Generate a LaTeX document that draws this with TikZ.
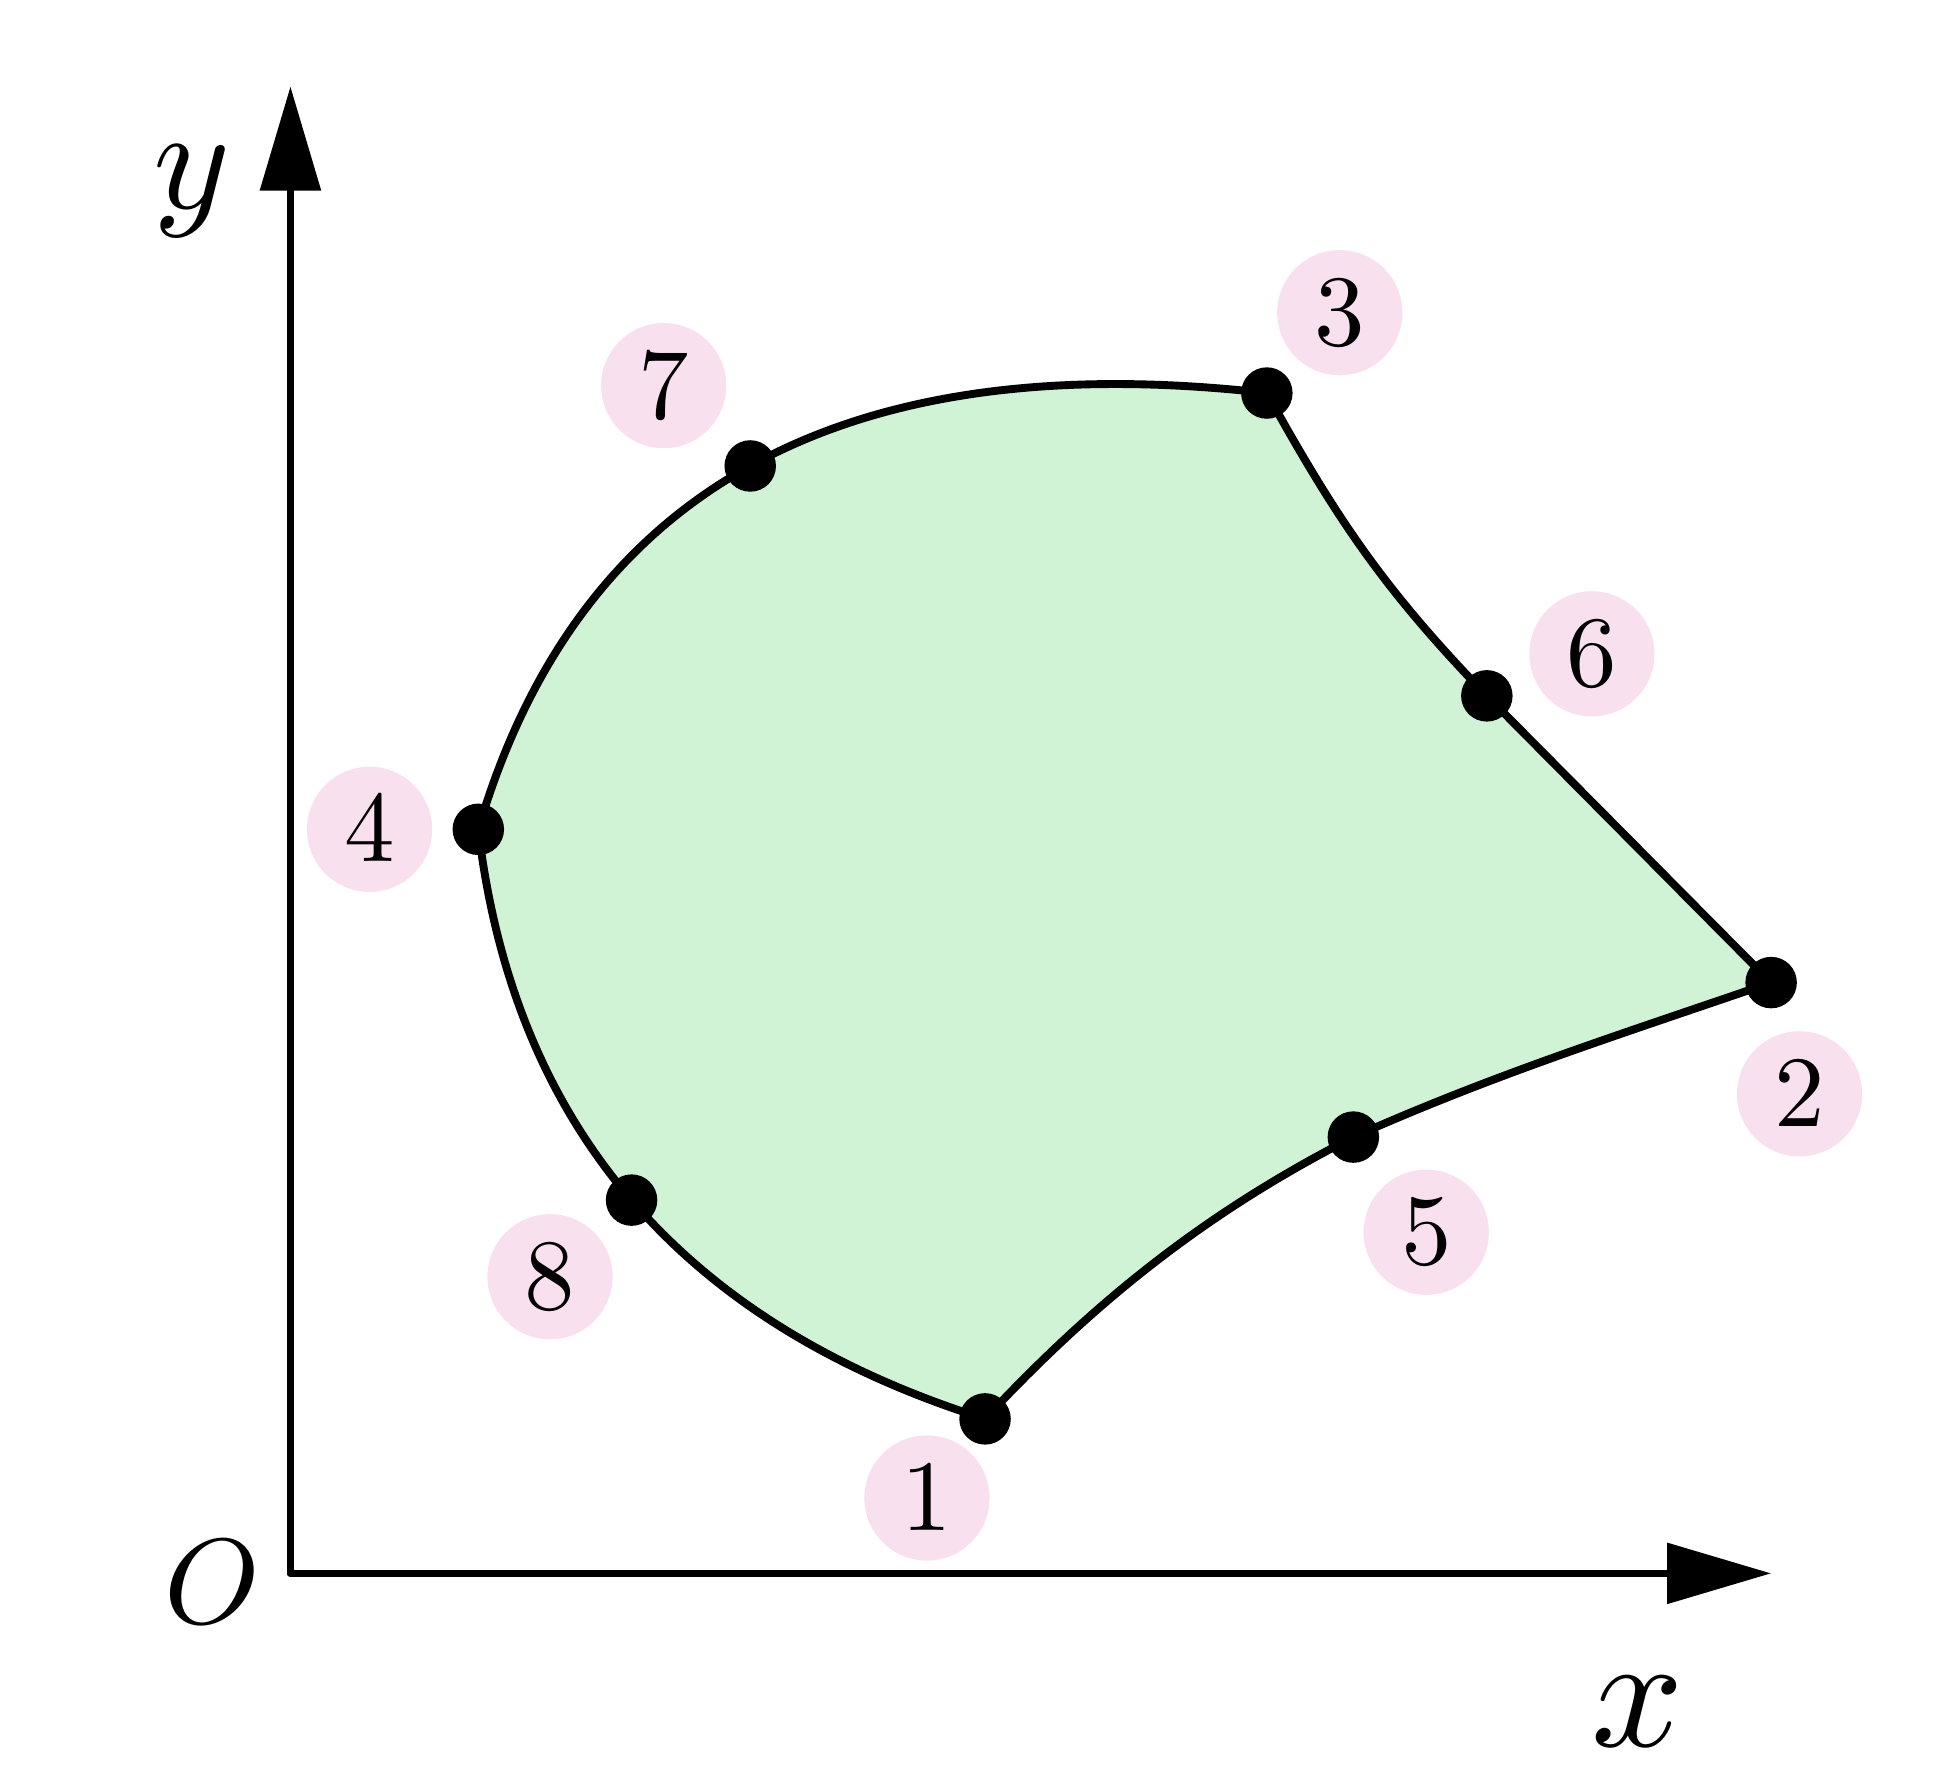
\documentclass[tikz,border=0pt]{standalone}
\usepackage{amsmath}
\usepackage{amssymb}
\usepackage{tikz}
\usetikzlibrary{arrows.meta}
\usetikzlibrary{calc}

\definecolor{elemgreen}{RGB}{208,243,213}
\definecolor{tagpink}{RGB}{249,224,238}

\tikzset{
    axis/.style = {line width = 0.7pt, line cap = round,
        -{Triangle[length = 10.3pt, width = 5.9pt]}},
    edge/.style = {line width = 0.78pt, fill = elemgreen},
    knot/.style = {fill = black, circle, inner sep = 0, minimum size = 5.1pt},
    tag/.style = {fill = tagpink, circle, inner sep = 0, minimum size = 12.4pt}
}

\begin{document}
\begin{tikzpicture} [x = 0.1224pt, y = 0.1224pt]
    \useasboundingbox (-235, -163) rectangle (1333, 1273);

    % axes
    \coordinate (O) at (0, 0);
    \coordinate (xend) at (1198, 0);
    \coordinate (yend) at (0, 1203);
    \draw[axis] (O) -- (xend);
    \draw[axis] (O) -- (yend);
    \node[scale = 1.2] (Olab) at (-63, -7) {$O$};
    \node[scale = 1.6] (xlab) at (1090, -112) {$x$};
    \node[scale = 1.45] (ylab) at (-80, 1118) {$y$};

    % corner and mid-side points
    \coordinate (p1) at (562, 125);
    \coordinate (p2) at (1198, 478);
    \coordinate (p3) at (790, 955);
    \coordinate (p4) at (152, 602);
    \coordinate (p5) at (860, 353);
    \coordinate (p6) at (968, 710);
    \coordinate (p7) at (372, 896);
    \coordinate (p8) at (276, 302);

    % control points of the two parabolic sides
    \coordinate (c37) at ($2*(p7) - 0.5*(p3) - 0.5*(p4)$);
    \coordinate (c48) at ($2*(p8) - 0.5*(p4) - 0.5*(p1)$);

    \draw[edge] (p1) to[out = 47, in = 207, looseness = 0.9] (p5)
        to[out = 24, in = 199, looseness = 0.9] (p2)
        -- (p6) to[out = 134, in = -61] (p3)
        .. controls ($(p3)!2/3!(c37)$) and ($(p4)!2/3!(c37)$) .. (p4)
        .. controls ($(p4)!2/3!(c48)$) and ($(p1)!2/3!(c48)$) .. (p1)
        -- cycle;

    \foreach \i in {1, ..., 8}
        \node[knot] (k\i) at (p\i) {};

    % numbers
    \node[tag] (t1) at (515, 61) {$1$};
    \node[tag] (t2) at (1221, 388) {$2$};
    \node[tag] (t3) at (849, 1020) {$3$};
    \node[tag] (t4) at (64, 602) {$4$};
    \node[tag] (t5) at (919, 276) {$5$};
    \node[tag] (t6) at (1053, 744) {$6$};
    \node[tag] (t7) at (302, 961) {$7$};
    \node[tag] (t8) at (210, 240) {$8$};
\end{tikzpicture}
\end{document}
